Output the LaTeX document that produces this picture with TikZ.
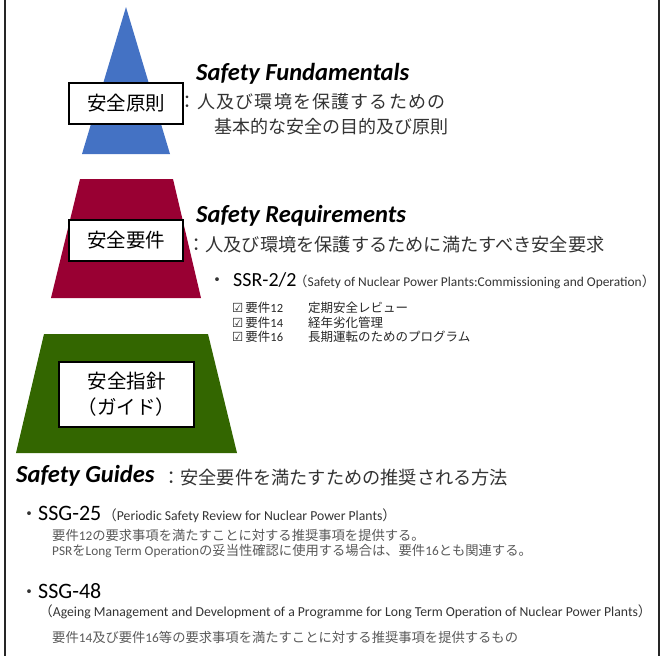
\documentclass[tikz,border=0pt]{standalone}
\usepackage{fontspec}
\setmainfont{Carlito}
\newfontfamily\jp{Noto Sans CJK JP}
\newfontfamily\jpwide[LetterSpace=6.5]{Noto Sans CJK JP}
\newfontfamily\symf{DejaVu Sans}
\definecolor{tribl}{HTML}{4472C4}
\definecolor{trired}{HTML}{990033}
\definecolor{trigrn}{HTML}{336600}
\definecolor{bodyc}{HTML}{333333}
\definecolor{detc}{HTML}{595959}
\newcommand\fs[1]{\fontsize{#1}{#1}\selectfont}
\begin{document}
\begin{tikzpicture}[x=1pt,y=-1pt,
 lvl/.style={draw=black, line width=1.2pt, fill=white, inner sep=0pt, align=center, font=\jp\fs{19.5}},
 head/.style={anchor=base west, inner sep=0pt, font=\bfseries\itshape\fs{24.5}},
 jline/.style={anchor=base west, inner sep=0pt, text=bodyc, font=\jp\fs{18.2}},
 code/.style={anchor=base west, inner sep=0pt, text=black, font=\fs{20}},
 codeg/.style={code, font=\fs{22}},
 paren/.style={anchor=base west, inner sep=0pt, text=bodyc, font=\fs{13.7}},
 chk/.style={anchor=base west, inner sep=0pt, text=black!85, font=\fs{12.5}},
 det/.style={anchor=base west, inner sep=0pt, text=detc, font=\fs{13.3}},
 bul/.style={anchor=base, inner sep=0pt, text=bodyc, font=\jp\fs{18}},
 frame/.style={line width=1.6pt, draw=black!85}
]
\useasboundingbox (0,0) rectangle (661,656);
% side frame lines
\draw[frame] (5,0) -- (5,656);
\draw[frame] (659,0) -- (659,656);
% pyramid levels
\fill[tribl] (126,7) -- (170,154) -- (82,154) -- cycle;
\fill[trired] (80,179) -- (173,179) -- (201,298) -- (51,298) -- cycle;
\fill[trigrn] (44,334) -- (208,334) -- (237,453) -- (16,453) -- cycle;
% level labels
\node[lvl, minimum width=114pt, minimum height=41pt] (b1) at (126,103.5) {安全原則};
\node[lvl, minimum width=114pt, minimum height=41pt] (b2) at (126,240.5) {安全要件};
\node[lvl, minimum width=135pt, minimum height=65pt, font=\jp\fontsize{19.5}{26}\selectfont] (b3) at (126.5,394.5) {安全指針\\（ガイド）};
% Safety Fundamentals
\node[head] (hf) at (196,80) {Safety Fundamentals};
\node[jline, font=\jpwide\fs{18}] (f1) at (178,108.7) {：人及び環境を保護するための};
\node[jline, font=\jp\fs{18}] (f2) at (214,133.7) {基本的な安全の目的及び原則};
% Safety Requirements
\node[head] (hr) at (196,222) {Safety Requirements};
\node[jline] (r1) at (187,251.5) {：人及び環境を保護するために満たすべき安全要求};
\node[bul] (rb) at (217,286.5) {・};
\node[code] (ssr) at (233,286.5) {SSR-2/2};
\node[paren, font=\fs{13.4}] (ssrp) at (294,286.5) {{\jp （}Safety of Nuclear Power Plants:Commissioning and Operation{\jp ）}};
\node[chk] (c1) at (232,312) {{\symf ☑}\,{\jp 要件}12};
\node[chk] (c1t) at (308,312) {\jp 定期安全レビュー};
\node[chk] (c2) at (232,327) {{\symf ☑}\,{\jp 要件}14};
\node[chk] (c2t) at (308,327) {\jp 経年劣化管理};
\node[chk] (c3) at (232,341.5) {{\symf ☑}\,{\jp 要件}16};
\node[chk] (c3t) at (308,341.5) {\jp 長期運転のためのプログラム};
% Safety Guides
\node[head] (hg) at (16,482.5) {Safety Guides};
\node[jline] (g1) at (162,484.5) {：安全要件を満たすための推奨される方法};
\node[bul] (gb1) at (29,520) {・};
\node[codeg] (ssg25) at (38,520) {SSG-25};
\node[paren] (ssg25p) at (103,520) {{\jp （}Periodic Safety Review for Nuclear Power Plants{\jp ）}};
\node[det] (d1) at (52,540.5) {{\jp 要件}12{\jp の要求事項を満たすことに対する推奨事項を提供する。}};
\node[det] (d2) at (52,555.5) {PSR{\jp を}Long Term Operation{\jp の妥当性確認に使用する場合は、要件}16{\jp とも関連する。}};
\node[bul] (gb2) at (29,598) {・};
\node[codeg] (ssg48) at (38,598) {SSG-48};
\node[paren] (ssg48p) at (39,616.5) {{\jp （}Ageing Management and Development of a Programme for Long Term Operation of Nuclear Power Plants{\jp ）}};
\node[det] (d3) at (52,642) {{\jp 要件}14{\jp 及び要件}16{\jp 等の要求事項を満たすことに対する推奨事項を提供するもの}};
\end{tikzpicture}
\end{document}
